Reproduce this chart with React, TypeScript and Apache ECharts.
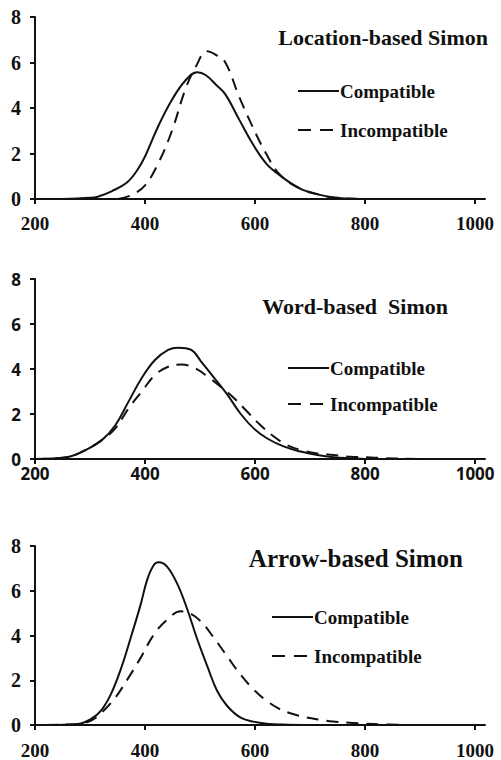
import React, { useEffect, useRef } from "react";
import * as echarts from "echarts";

// Panel 1: Location-based Simon
const locCompX = [250, 300, 314, 340, 366, 384, 400, 424, 449, 473, 495, 510, 530, 546, 571, 595, 620, 644, 681, 718, 742, 791];
const locCompY = [0, 0.05, 0.1, 0.35, 0.7, 1.2, 1.87, 3.2, 4.36, 5.2, 5.57, 5.45, 5.0, 4.6, 3.5, 2.45, 1.57, 1.06, 0.47, 0.18, 0.07, 0];
const locIncX = [351, 376, 400, 424, 449, 473, 492, 513, 528, 546, 571, 595, 620, 644, 681, 718, 742, 791];
const locIncY = [0, 0.18, 0.6, 1.57, 3.0, 4.8, 5.8, 6.5, 6.35, 6.0, 4.5, 3.2, 2.0, 1.1, 0.47, 0.18, 0.07, 0];

// Panel 2: Word-based Simon
const wordCompX = [200, 231, 262, 292, 322, 346, 370, 394, 418, 442, 460, 484, 502, 526, 550, 574, 598, 623, 653, 683, 713, 743, 773, 800];
const wordCompY = [0, 0.02, 0.1, 0.4, 0.85, 1.5, 2.55, 3.6, 4.4, 4.85, 4.95, 4.85, 4.33, 3.6, 2.85, 2.0, 1.35, 0.9, 0.55, 0.33, 0.18, 0.08, 0.03, 0];
const wordIncX = [200, 231, 262, 292, 322, 346, 370, 394, 418, 442, 466, 490, 514, 538, 562, 586, 610, 634, 658, 683, 713, 743, 773, 803, 833, 863, 900];
const wordIncY = [0, 0.02, 0.1, 0.4, 0.85, 1.36, 2.25, 3.0, 3.73, 4.1, 4.2, 4.05, 3.66, 3.2, 2.7, 2.1, 1.5, 1.0, 0.62, 0.4, 0.25, 0.18, 0.1, 0.08, 0.04, 0.02, 0];

// Panel 3: Arrow-based Simon
const arrCompX = [220, 278, 302, 320, 338, 356, 374, 392, 404, 416, 425, 440, 458, 476, 494, 513, 531, 549, 573, 597, 621, 651, 700];
const arrCompY = [0, 0.05, 0.27, 0.64, 1.38, 2.5, 3.9, 5.38, 6.5, 7.15, 7.27, 7.08, 6.34, 5.23, 3.9, 2.64, 1.53, 0.86, 0.34, 0.15, 0.06, 0.02, 0];
const arrIncX = [220, 278, 302, 320, 344, 368, 392, 416, 440, 465, 477, 501, 525, 549, 573, 597, 621, 645, 669, 693, 717, 741, 771, 801, 831, 870];
const arrIncY = [0, 0.05, 0.2, 0.53, 1.16, 2.04, 3.0, 4.04, 4.7, 5.08, 5.04, 4.64, 3.9, 3.08, 2.27, 1.6, 1.08, 0.71, 0.49, 0.34, 0.24, 0.16, 0.1, 0.06, 0.03, 0];

const xTicks = [200, 400, 600, 800, 1000];
const titles = ["Location-based Simon", "Word-based  Simon", "Arrow-based Simon"];
const legendNames = ["Compatible", "Incompatible"];

const SERIF = "Liberation Serif";
const SANS = "Open Sans";
const INK = "#111";

const zip = (xs: number[], ys: number[]) => xs.map((x, i) => [x, ys[i]]);

export default function App() {
  const ref = useRef<HTMLDivElement>(null);
  useEffect(() => {
    if (!ref.current) return;
    const chart = echarts.init(ref.current, null, { renderer: "svg" });

    const grids = [
      { left: 35, top: 17, width: 450, height: 182 },
      { left: 35, top: 279, width: 450, height: 180 },
      { left: 35, top: 546, width: 450, height: 180 },
    ];
    const fonts = [SERIF, SANS, SERIF];
    const xMargins = [15, 6, 16];

    const xAxes = grids.map((_, i) => ({
      type: "value",
      gridIndex: i,
      min: 200,
      max: 1018,
      splitLine: { show: false },
      axisLine: { show: true, onZero: false, lineStyle: { color: INK, width: 2 } },
      axisTick: { show: true, length: 5, customValues: xTicks, lineStyle: { color: INK, width: 2 } },
      axisLabel: {
        customValues: xTicks,
        formatter: (v: number) => String(v),
        margin: xMargins[i],
        color: INK,
        fontFamily: fonts[i],
        fontWeight: "bold",
        fontSize: i === 1 ? 17 : 19,
      },
    }));
    const yAxes = grids.map((_, i) => ({
      type: "value",
      gridIndex: i,
      min: 0,
      max: 8,
      interval: 2,
      splitLine: { show: false },
      axisLine: { show: true, lineStyle: { color: INK, width: 2 } },
      axisTick: { show: true, length: 5, lineStyle: { color: INK, width: 2 } },
      axisLabel: {
        margin: 14,
        color: INK,
        fontFamily: fonts[i],
        fontWeight: "bold",
        fontSize: i === 1 ? 17 : 20,
      },
    }));

    const data = [
      [zip(locCompX, locCompY), zip(locIncX, locIncY)],
      [zip(wordCompX, wordCompY), zip(wordIncX, wordIncY)],
      [zip(arrCompX, arrCompY), zip(arrIncX, arrIncY)],
    ];
    const series: any[] = [];
    data.forEach((pair, i) => {
      pair.forEach((d, j) => {
        series.push({
          type: "line",
          name: legendNames[j],
          xAxisIndex: i,
          yAxisIndex: i,
          data: d,
          smooth: 0.4,
          showSymbol: false,
          symbol: "none",
          lineStyle: { color: INK, width: 2, type: j === 0 ? "solid" : [12, 8] },
          z: 3,
        });
      });
    });

    const titlePos = [
      { x: 488, y: 37, size: 22 },
      { x: 448, y: 306, size: 22 },
      { x: 463, y: 558, size: 25 },
    ];
    const legendPos = [
      { x: 298, y1: 91, y2: 130 },
      { x: 288, y1: 368, y2: 404 },
      { x: 272, y1: 617, y2: 656 },
    ];
    const graphic: any[] = [];
    titlePos.forEach((t, i) => {
      graphic.push({
        type: "text",
        x: t.x,
        y: t.y,
        style: {
          text: titles[i],
          fill: INK,
          font: `bold ${t.size}px "${SERIF}"`,
          textAlign: "right",
          textVerticalAlign: "middle",
        },
      });
    });
    legendPos.forEach((p) => {
      graphic.push({
        type: "line",
        shape: { x1: p.x, y1: p.y1, x2: p.x + 41, y2: p.y1 },
        style: { stroke: INK, lineWidth: 2 },
      });
      graphic.push({
        type: "line",
        shape: { x1: p.x, y1: p.y2, x2: p.x + 41, y2: p.y2 },
        style: { stroke: INK, lineWidth: 2, lineDash: [13, 9] },
      });
      graphic.push({
        type: "text",
        x: p.x + 42,
        y: p.y1,
        style: { text: legendNames[0], fill: INK, font: `bold 19px "${SERIF}"`, textVerticalAlign: "middle" },
      });
      graphic.push({
        type: "text",
        x: p.x + 42,
        y: p.y2,
        style: { text: legendNames[1], fill: INK, font: `bold 19px "${SERIF}"`, textVerticalAlign: "middle" },
      });
    });

    chart.setOption({
      animation: false,
      backgroundColor: "#fff",
      grid: grids,
      xAxis: xAxes,
      yAxis: yAxes,
      series,
      graphic,
    });
    return () => chart.dispose();
  }, []);
  return (
    <div
      ref={ref}
      style={{ position: "absolute", left: 0, top: 0, width: 501, height: 760, background: "#fff" }}
    />
  );
}
